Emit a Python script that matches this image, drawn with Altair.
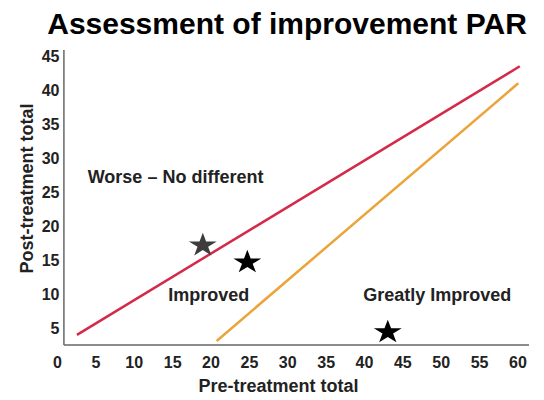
import altair as alt
import pandas as pd

# Threshold lines
red_x = [2.6, 60.3]
red_y = [4.0, 43.6]
orange_x = [20.8, 60.1]
orange_y = [3.1, 41.1]

# Stars
star_x = [19.0, 24.8, 43.1]
star_y = [17.2, 14.7, 4.4]
star_shade = ["grey", "black", "black"]

# Region labels
label_text = ["Worse \u2013 No different", "Improved", "Greatly Improved"]
label_x = [4.0, 14.5, 39.9]
label_y = [27.1, 9.7, 9.7]

x_ticks = [0, 5, 10, 15, 20, 25, 30, 35, 40, 45, 50, 55, 60]
y_ticks = [5, 10, 15, 20, 25, 30, 35, 40, 45]

FONT = "Liberation Sans"
STAR = ("M0,-0.85 L0.2245,-0.263 L0.951,-0.263 L0.363,0.1 L0.588,0.688 L0,0.325 "
        "L-0.588,0.688 L-0.363,0.1 L-0.951,-0.263 L-0.2245,-0.263 Z")

xs = alt.Scale(domain=[0, 61.5], nice=False, zero=False)
ys = alt.Scale(domain=[2.5, 46], nice=False, zero=False)

red_df = pd.DataFrame({"x": red_x, "y": red_y})
orange_df = pd.DataFrame({"x": orange_x, "y": orange_y})
star_df = pd.DataFrame({"x": star_x, "y": star_y, "shade": star_shade})
lab_df = pd.DataFrame({"x": label_x, "y": label_y, "t": label_text})
xaxis_df = pd.DataFrame({"x": [0.9, 61.5], "y": [2.5, 2.5]})
yaxis_df = pd.DataFrame({"x": [0.9, 0.9], "y": [2.5, 46]})

X = alt.X("x:Q", scale=xs,
          axis=alt.Axis(values=x_ticks, title="Pre-treatment total", grid=False,
                        domain=False, ticks=False, labelPadding=9, orient="bottom",
                        labelFont=FONT, labelFontSize=16, labelFontWeight="bold",
                        labelColor="#222", titleFont=FONT, titleFontSize=18,
                        titleFontWeight="bold", titleColor="#222", titlePadding=7,
                        titleX=221, labelFlush=False))
Y = alt.Y("y:Q", scale=ys,
          axis=alt.Axis(values=y_ticks, title="Post-treatment total", grid=False,
                        domain=False, ticks=False, labelPadding=-2, orient="left",
                        labelFont=FONT, labelFontSize=16, labelFontWeight="bold",
                        labelColor="#222", titleFont=FONT, titleFontSize=18,
                        titleFontWeight="bold", titleColor="#222", titlePadding=5,
                        titleY=138, labelFlush=False))

xaxis_line = alt.Chart(xaxis_df).mark_line(color="#666", strokeWidth=1.5).encode(x=X, y=Y)
yaxis_line = alt.Chart(yaxis_df).mark_line(color="#666", strokeWidth=1.5).encode(x=X, y=Y)
red = alt.Chart(red_df).mark_line(color="#d42a4a", strokeWidth=2.5).encode(x=X, y=Y)
orange = alt.Chart(orange_df).mark_line(color="#eba43a", strokeWidth=2.5).encode(x=X, y=Y)

stars = alt.Chart(star_df).mark_point(shape=STAR, filled=True, size=860, opacity=1,
                                      strokeWidth=0).encode(
    x=X, y=Y,
    color=alt.Color("shade:N",
                    scale=alt.Scale(domain=["grey", "black"], range=["#3c3c3c", "#000000"]),
                    legend=None))

labels = alt.Chart(lab_df).mark_text(align="left", baseline="middle", font=FONT,
                                      fontSize=18, fontWeight="bold", color="#222").encode(
    x=X, y=Y, text="t:N")

chart = alt.layer(xaxis_line, yaxis_line, red, orange, stars, labels).properties(
    width=472, height=295,
    title=alt.TitleParams("Assessment of improvement PAR", font=FONT, fontSize=30,
                          fontWeight="bold", color="#000", offset=7, anchor="middle", dx=-6),
    autosize=alt.AutoSizeParams(type="none"),
    padding={"left": 49, "top": 42, "right": 7, "bottom": 55},
    background="white",
).configure_view(stroke=None)

chart.save("out.html", embed_options={"renderer": "svg", "actions": False})
